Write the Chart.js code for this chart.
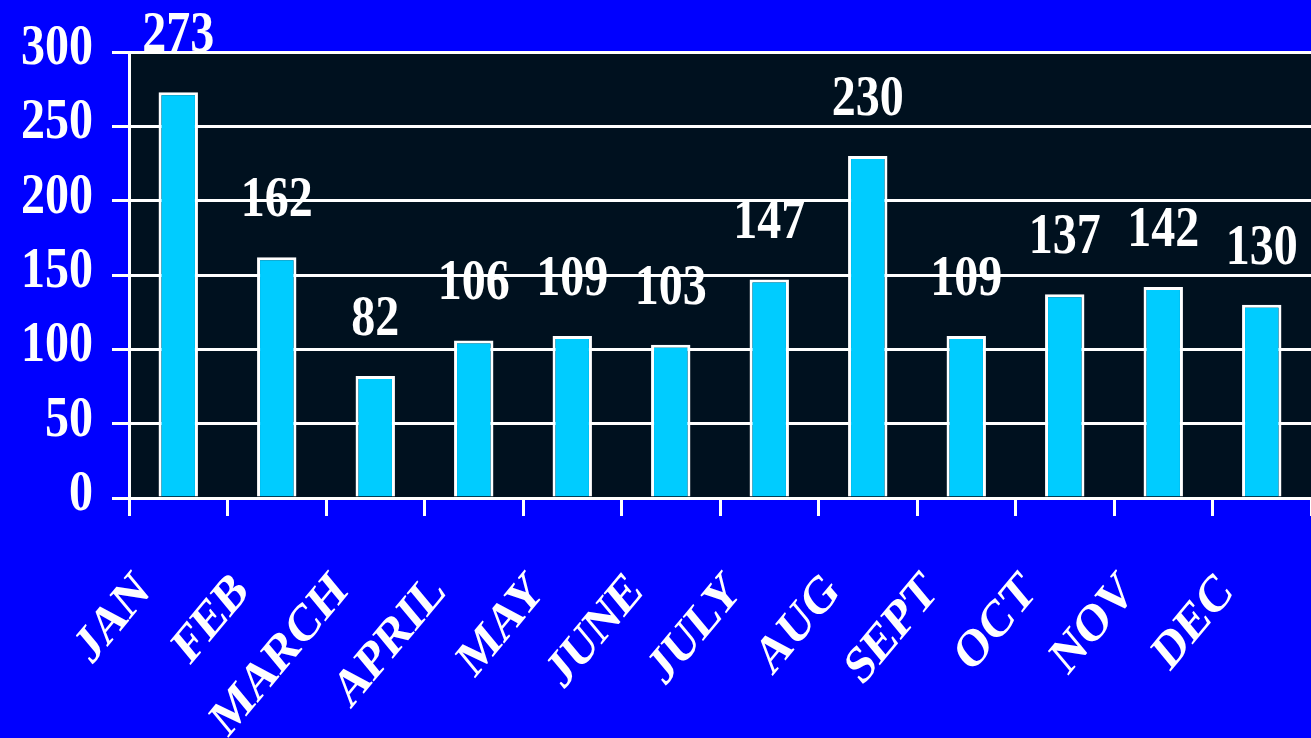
<!DOCTYPE html>
<html>
<head>
<meta charset="utf-8">
<script src="https://cdn.jsdelivr.net/npm/chart.js@4"></script>
<style>
html, body { margin: 0; padding: 0; background: #0000ff; overflow: hidden; }
#wrap { width: 1311px; height: 738px; position: relative; }
</style>
</head>
<body>
<div id="wrap"><canvas id="chart"></canvas></div>
<script>
const months = ['JAN', 'FEB', 'MARCH', 'APRIL', 'MAY', 'JUNE', 'JULY', 'AUG', 'SEPT', 'OCT', 'NOV', 'DEC'];
const counts = [273, 162, 82, 106, 109, 103, 147, 230, 109, 137, 142, 130];
const yMin = 0;
const yMax = 300;
const yStep = 50;

const serif = "'Liberation Serif', 'Times New Roman', serif";
const stretch = 1.2; // the original lettering is tall and narrow

// dark plot area behind the bars
const plotBackground = {
    id: 'plotBackground',
    beforeDraw(chart) {
        const { ctx, chartArea } = chart;
        ctx.save();
        ctx.fillStyle = '#00111f';
        ctx.fillRect(chartArea.left, chartArea.top, chartArea.right - chartArea.left, chartArea.bottom - chartArea.top);
        ctx.restore();
    }
};

// all lettering: y tick values, value above each bar, slanted month names
const textLayer = {
    id: 'textLayer',
    afterDatasetsDraw(chart) {
        const { ctx, chartArea } = chart;
        const meta = chart.getDatasetMeta(0);
        const xScale = chart.scales.x;
        const yScale = chart.scales.y;

        ctx.save();
        ctx.fillStyle = '#ffffff';

        ctx.font = `bold 48px ${serif}`;
        ctx.textAlign = 'right';
        ctx.textBaseline = 'middle';
        yScale.ticks.forEach((t, i) => {
            ctx.save();
            ctx.translate(chartArea.left - 36, yScale.getPixelForTick(i) - 3);
            ctx.scale(1, stretch);
            ctx.fillText(String(t.value), 0, 0);
            ctx.restore();
        });

        ctx.textAlign = 'center';
        ctx.textBaseline = 'alphabetic';
        meta.data.forEach((bar, i) => {
            ctx.save();
            ctx.translate(bar.x, bar.y - 41);
            ctx.scale(1, stretch);
            ctx.fillText(String(counts[i]), 0, 0);
            ctx.restore();
        });

        ctx.font = `bold 44px ${serif}`;
        ctx.textAlign = 'right';
        ctx.textBaseline = 'top';
        months.forEach((m, i) => {
            const x = xScale.getPixelForTick(i);
            ctx.save();
            ctx.translate(x - 50, chartArea.bottom + 67);
            ctx.scale(1, stretch);
            ctx.rotate(-Math.PI / 4);
            ctx.fillText(m, 0, 0);
            ctx.restore();
        });
        ctx.restore();
    }
};

new Chart(document.getElementById('chart'), {
    type: 'bar',
    data: {
        labels: months,
        datasets: [{
            data: counts,
            backgroundColor: '#00ccff',
            borderColor: '#ffffff',
            borderWidth: 3,
            barPercentage: 0.4,
            categoryPercentage: 1
        }]
    },
    options: {
        responsive: true,
        maintainAspectRatio: false,
        animation: false,
        layout: { padding: { top: 52, right: 0, left: 0, bottom: 0 } },
        plugins: {
            legend: { display: false },
            tooltip: { enabled: false }
        },
        scales: {
            x: {
                offset: true,
                grid: {
                    offset: true,
                    drawOnChartArea: false,
                    color: '#ffffff',
                    lineWidth: 3,
                    tickLength: 18
                },
                border: { color: '#ffffff', width: 3 },
                ticks: { display: false, autoSkip: false },
                afterFit(scale) {
                    scale.height = 240;
                    scale.paddingLeft = 0;
                    scale.paddingRight = 0;
                }
            },
            y: {
                min: yMin,
                max: yMax,
                grid: {
                    color: '#ffffff',
                    lineWidth: 3,
                    tickLength: 17
                },
                border: { color: '#ffffff', width: 3 },
                ticks: {
                    stepSize: yStep,
                    color: 'rgba(0,0,0,0)',
                    font: { family: serif, size: 48, weight: 'bold' },
                    padding: 18
                },
                afterFit(scale) {
                    scale.width = 129;
                    scale.paddingTop = 0;
                    scale.paddingBottom = 0;
                }
            }
        }
    },
    plugins: [plotBackground, textLayer]
});
</script>
</body>
</html>
